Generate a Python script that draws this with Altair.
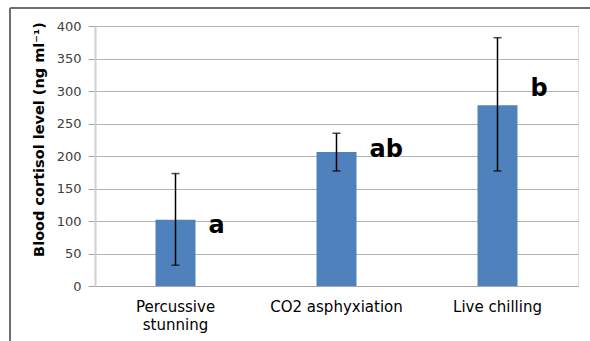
import altair as alt
import pandas as pd

categories = ["Percussive stunning", "CO2 asphyxiation", "Live chilling"]
means = [102, 206, 278]
err_low = [32, 177, 177]
err_high = [173, 235, 382]
letters = ["a", "ab", "b"]
letter_y = [81, 198, 293]
y_ticks = [0, 50, 100, 150, 200, 250, 300, 350, 400]

df = pd.DataFrame({
    "cat": categories, "mean": means, "lo": err_low, "hi": err_high,
    "letter": letters, "ly": letter_y,
})

FONT = "DejaVu Sans"
x_axis = alt.Axis(labelAngle=0, ticks=False, domainColor="#a6a6a6",
                  labelFontSize=15, labelColor="#000000", labelFont=FONT,
                  labelPadding=13, labelLineHeight=18,
                  labelExpr="datum.label == 'Percussive stunning' ? ['Percussive', 'stunning'] : datum.label")
y_axis = alt.Axis(values=y_ticks, labelOverlap=False,
                  tickSize=7, tickColor="#a6a6a6", domainColor="#d0d0d0",
                  domainWidth=2, gridColor="#b3b3b3", labelFontSize=13,
                  labelColor="#404040", labelFont=FONT, labelPadding=7,
                  titleFont=FONT, titleFontSize=14.5, titleFontWeight="bold",
                  titleColor="#000000", titlePadding=10, titleY=113)
yscale = alt.Scale(domain=[0, 400], nice=False)
YT = "Blood cortisol level (ng ml⁻¹)"

def X():
    return alt.X("cat:N", sort=categories, title=None, axis=x_axis)

def Y(field):
    return alt.Y(field, scale=yscale, title=YT, axis=y_axis)

base = alt.Chart(df)
bars = base.mark_bar(size=40, color="#4f81bd").encode(x=X(), y=Y("mean:Q"))
rule = base.mark_rule(color="#000000", strokeWidth=1.5).encode(
    x=X(), y=Y("lo:Q"), y2="hi:Q")
cap_hi = base.mark_tick(color="#000000", size=8, thickness=1.5).encode(
    x=X(), y=Y("hi:Q"))
cap_lo = base.mark_tick(color="#000000", size=8, thickness=1.5).encode(
    x=X(), y=Y("lo:Q"))
text = base.mark_text(align="left", baseline="alphabetic", dx=33, fontSize=24,
                      fontWeight="bold", font=FONT, color="#000000").encode(
    x=X(), y=Y("ly:Q"), text="letter:N")

frame_top = alt.Chart(pd.DataFrame({"k": [0]})).mark_rule(color="#707070", strokeWidth=2).encode(
    x=alt.value(-85), x2=alt.value(520), y=alt.value(-18))
frame_left = alt.Chart(pd.DataFrame({"k": [0]})).mark_rule(color="#707070", strokeWidth=2).encode(
    x=alt.value(-85), y=alt.value(-18), y2=alt.value(330))

chart = alt.layer(bars, rule, cap_hi, cap_lo, text, frame_top, frame_left).properties(
    width=483, height=260,
    autosize=alt.AutoSizeParams(type="none"),
    padding={"left": 95, "top": 26, "right": 12, "bottom": 55},
).configure_view(stroke=None).configure(background="#ffffff")

chart.save("out.html", embed_options={"renderer": "svg", "actions": False})
